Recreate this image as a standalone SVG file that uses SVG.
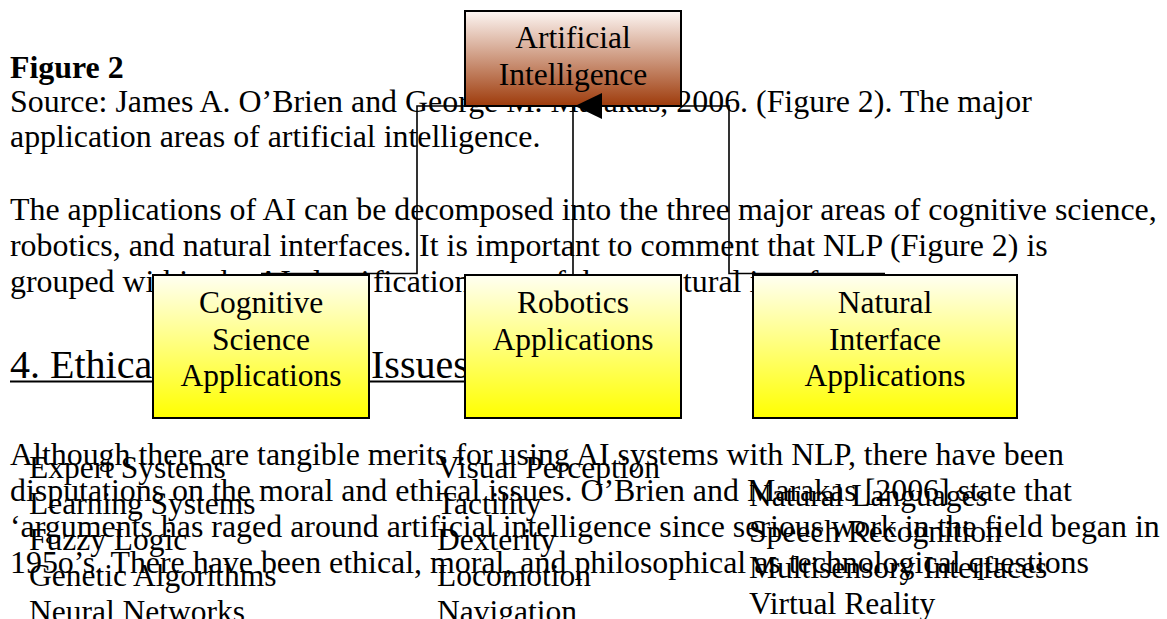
<svg xmlns="http://www.w3.org/2000/svg" width="1167" height="619" viewBox="0 0 1167 619">
<defs>
<linearGradient id="gBrown" x1="0" y1="0" x2="0" y2="1">
<stop offset="0" stop-color="#fdf6f3"/>
<stop offset="1" stop-color="#9e3b0b"/>
</linearGradient>
<linearGradient id="gYellow" x1="0" y1="0" x2="0" y2="1">
<stop offset="0" stop-color="#fffff2"/>
<stop offset="1" stop-color="#ffff00"/>
</linearGradient>
<style>
.body{font-family:"Liberation Serif","Times New Roman",serif;font-size:31.9px;fill:#000}
.bold{font-weight:bold}
.head{font-family:"Liberation Serif","Times New Roman",serif;font-size:40px;fill:#000}
.lbl{font-family:"Liberation Serif","Times New Roman",serif;font-size:31.5px;fill:#000;text-anchor:middle}
.list{font-family:"Liberation Serif","Times New Roman",serif;font-size:31.5px;fill:#000}
.box{stroke:#000;stroke-width:2}
.conn{fill:none;stroke:#000;stroke-width:1.6}
</style>
</defs>
<g id="document-text">
<text class="body bold" x="10" y="78">Figure 2</text>
<text class="body" x="10" y="112">Source: James A. O’Brien and George M. Marakas, 2006. (Figure 2). The major</text>
<text class="body" x="10" y="147">application areas of artificial intelligence.</text>
<text class="body" x="10" y="220">The applications of AI can be decomposed into the three major areas of cognitive science,</text>
<text class="body" x="10" y="256">robotics, and natural interfaces. It is important to comment that NLP (Figure 2) is</text>
<text class="body" x="10" y="292">grouped within the AI classi<tspan x="373">fication area of the na</tspan><tspan x="683">tural interface area.</tspan></text>
<text class="head" x="10" y="378">4. Ethical and Moral <tspan x="371">Issues</tspan></text>
<line x1="10" y1="381.5" x2="470" y2="381.5" stroke="#000" stroke-width="2"/>
<text class="body" x="10" y="465">Although there are tangible merits for using AI systems with NLP, there have been</text>
<text class="body" x="10" y="501">disputations on the moral and ethical issues. O’Brien and Marakas [2006] state that</text>
<text class="body" x="10" y="537">‘arguments has raged around artificial intelligence since serious work in the field began in</text>
<text class="body" x="10" y="573">195o’s. There have been ethical, moral, and philosophical as technological questions</text>
</g>
<g id="node-ai">
<rect class="box" x="465" y="11" width="216" height="95" fill="url(#gBrown)"/>
<text class="lbl" x="573" y="48">Artificial</text>
<text class="lbl" x="573" y="85">Intelligence</text>
</g>
<g id="node-cognitive">
<rect class="box" x="153" y="275" width="216" height="143" fill="url(#gYellow)"/>
<text class="lbl" x="261" y="313">Cognitive</text>
<text class="lbl" x="261" y="350">Science</text>
<text class="lbl" x="261" y="386">Applications</text>
</g>
<g id="node-robotics">
<rect class="box" x="465" y="275" width="216" height="143" fill="url(#gYellow)"/>
<text class="lbl" x="573" y="313">Robotics</text>
<text class="lbl" x="573" y="350">Applications</text>
</g>
<g id="node-natural">
<rect class="box" x="753" y="275" width="264" height="143" fill="url(#gYellow)"/>
<text class="lbl" x="885" y="313">Natural</text>
<text class="lbl" x="885" y="350">Interface</text>
<text class="lbl" x="885" y="386">Applications</text>
</g>
<g id="connectors">
<path class="conn" d="M261 273.5 H417 V106 H573"/>
<path class="conn" d="M573 274 V106"/>
<path class="conn" d="M885 273.5 H729 V106 H573"/>
<polygon points="575,106 602,93 602,119" fill="#000"/>
</g>
<g id="list-cognitive">
<text class="list" x="29" y="478">Expert Systems</text>
<text class="list" x="29" y="514">Learning Systems</text>
<text class="list" x="29" y="550">Fuzzy Logic</text>
<text class="list" x="29" y="586">Genetic Algorithms</text>
<text class="list" x="29" y="622">Neural Networks</text>
</g>
<g id="list-robotics">
<text class="list" x="437" y="478">Visual Perception</text>
<text class="list" x="437" y="514">Tactility</text>
<text class="list" x="437" y="550">Dexterity</text>
<text class="list" x="437" y="586">Locomotion</text>
<text class="list" x="437" y="622">Navigation</text>
</g>
<g id="list-natural">
<text class="list" x="749" y="506">Natural Languages</text>
<text class="list" x="749" y="542">Speech Recognition</text>
<text class="list" x="749" y="578">Multisensory Interfaces</text>
<text class="list" x="749" y="614">Virtual Reality</text>
</g>
</svg>
